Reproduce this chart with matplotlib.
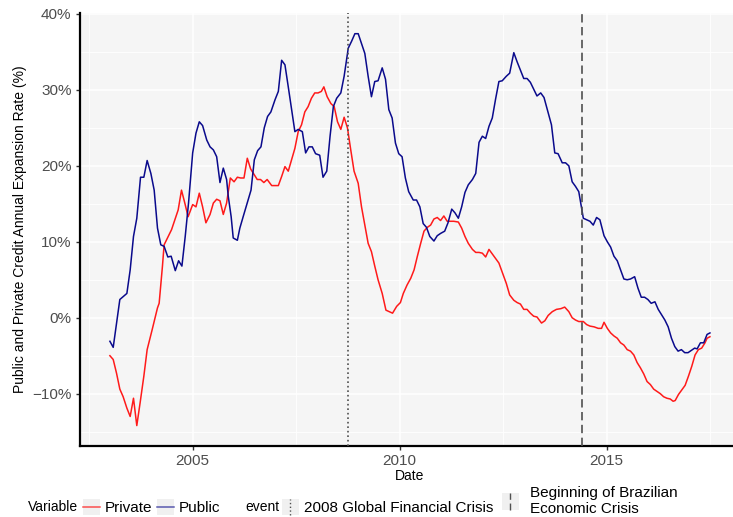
# Public vs private credit expansion rate, Brazil 2003-2017
import matplotlib
matplotlib.use("Agg")
import matplotlib.pyplot as plt
from matplotlib.lines import Line2D
from matplotlib.patches import Rectangle
from matplotlib.ticker import FixedLocator, FuncFormatter

plt.rcParams["font.family"] = ["Liberation Sans", "DejaVu Sans"]

# Data (decimal year, % annual expansion)
public_x = [2003.00, 2003.08, 2003.24, 2003.41, 2003.49, 2003.57, 2003.65, 2003.74, 2003.82, 2003.90,
            2003.99, 2004.07, 2004.15, 2004.23, 2004.31, 2004.40, 2004.48, 2004.58, 2004.66, 2004.74,
            2004.82, 2004.90, 2005.00, 2005.08, 2005.16, 2005.24, 2005.34, 2005.42, 2005.50, 2005.58,
            2005.66, 2005.74, 2005.82, 2005.86, 2005.93, 2005.98, 2006.08, 2006.14, 2006.22, 2006.33,
            2006.41, 2006.49, 2006.57, 2006.65, 2006.73, 2006.81, 2006.89, 2006.99, 2007.07, 2007.15,
            2007.23, 2007.31, 2007.39, 2007.47, 2007.55, 2007.65, 2007.73, 2007.81, 2007.89, 2007.97,
            2008.07, 2008.15, 2008.24, 2008.32, 2008.40, 2008.48, 2008.58, 2008.66, 2008.76, 2008.84,
            2008.92, 2009.00, 2009.08, 2009.16, 2009.24, 2009.32, 2009.40, 2009.48, 2009.58, 2009.66,
            2009.74, 2009.82, 2009.90, 2009.98, 2010.06, 2010.14, 2010.22, 2010.33, 2010.41, 2010.49,
            2010.57, 2010.65, 2010.73, 2010.83, 2010.91, 2010.99, 2011.09, 2011.17, 2011.26, 2011.34,
            2011.42, 2011.50, 2011.58, 2011.66, 2011.76, 2011.84, 2011.92, 2012.00, 2012.08, 2012.16,
            2012.24, 2012.32, 2012.40, 2012.48, 2012.58, 2012.66, 2012.76, 2012.84, 2012.92, 2013.00,
            2013.08, 2013.16, 2013.24, 2013.32, 2013.41, 2013.49, 2013.57, 2013.67, 2013.75, 2013.83,
            2013.93, 2014.01, 2014.09, 2014.17, 2014.25, 2014.33, 2014.40, 2014.44, 2014.52, 2014.60,
            2014.68, 2014.76, 2014.84, 2014.94, 2015.02, 2015.10, 2015.18, 2015.26, 2015.34, 2015.42,
            2015.50, 2015.58, 2015.68, 2015.76, 2015.84, 2015.92, 2016.00, 2016.08, 2016.17, 2016.25,
            2016.33, 2016.41, 2016.49, 2016.57, 2016.65, 2016.73, 2016.81, 2016.89, 2016.97, 2017.05,
            2017.13, 2017.19, 2017.27, 2017.35, 2017.43, 2017.50]
public_y = [-3.1, -3.9, 2.4, 3.2, 6.3, 10.7, 13.1, 18.5, 18.5, 20.7,
            19.0, 16.8, 11.8, 9.6, 9.4, 8.0, 8.1, 6.2, 7.5, 6.8,
            10.7, 15.1, 21.7, 24.3, 25.8, 25.3, 23.4, 22.5, 22.1, 21.2,
            17.8, 19.7, 18.2, 16.0, 13.3, 10.5, 10.2, 11.8, 13.3, 15.3,
            16.8, 20.8, 22.0, 22.5, 25.0, 26.5, 27.1, 28.7, 29.8, 33.9,
            33.3, 30.4, 27.4, 24.5, 24.8, 24.5, 21.7, 22.5, 22.5, 21.6,
            21.4, 18.5, 19.3, 23.9, 27.8, 28.9, 29.6, 31.8, 35.5, 36.4,
            37.4, 37.4, 36.1, 34.8, 31.8, 29.1, 31.1, 31.2, 32.9, 31.4,
            27.4, 26.3, 23.0, 21.6, 21.2, 18.4, 16.6, 15.5, 15.5, 14.6,
            12.4, 11.9, 10.7, 10.1, 10.8, 11.1, 11.4, 12.5, 14.3, 13.8,
            13.1, 14.6, 16.5, 17.5, 18.2, 19.0, 23.1, 23.9, 23.6, 25.2,
            26.3, 28.8, 31.1, 31.2, 31.8, 32.2, 34.9, 33.7, 32.6, 31.5,
            31.5, 31.0, 30.1, 29.2, 29.6, 29.0, 27.4, 25.4, 21.7, 21.6,
            20.4, 20.4, 20.0, 17.9, 17.3, 16.6, 14.4, 13.1, 12.9, 12.7,
            12.2, 13.2, 12.9, 10.8, 10.0, 9.3, 8.1, 7.5, 6.3, 5.1,
            5.0, 5.1, 5.4, 3.9, 2.7, 2.7, 2.4, 1.9, 2.1, 1.1,
            0.4, -0.3, -1.2, -2.7, -3.8, -4.4, -4.2, -4.6, -4.6, -4.3,
            -4.0, -4.1, -3.3, -3.3, -2.2, -2.0]

private_x = [2003.00, 2003.08, 2003.16, 2003.24, 2003.32, 2003.41, 2003.49, 2003.57, 2003.65, 2003.73,
             2003.82, 2003.90, 2004.02, 2004.15, 2004.19, 2004.27, 2004.31, 2004.41, 2004.49, 2004.57,
             2004.65, 2004.73, 2004.81, 2004.89, 2005.00, 2005.08, 2005.16, 2005.24, 2005.32, 2005.42,
             2005.50, 2005.58, 2005.66, 2005.74, 2005.82, 2005.91, 2006.00, 2006.08, 2006.16, 2006.24,
             2006.32, 2006.40, 2006.48, 2006.56, 2006.64, 2006.72, 2006.80, 2006.91, 2006.99, 2007.07,
             2007.15, 2007.23, 2007.31, 2007.39, 2007.47, 2007.55, 2007.63, 2007.71, 2007.79, 2007.87,
             2007.95, 2008.03, 2008.11, 2008.17, 2008.25, 2008.34, 2008.42, 2008.50, 2008.58, 2008.66,
             2008.74, 2008.82, 2008.90, 2009.00, 2009.08, 2009.16, 2009.24, 2009.32, 2009.40, 2009.48,
             2009.58, 2009.67, 2009.75, 2009.83, 2009.93, 2010.02, 2010.09, 2010.18, 2010.27, 2010.35,
             2010.43, 2010.51, 2010.59, 2010.67, 2010.75, 2010.83, 2010.91, 2010.99, 2011.07, 2011.15,
             2011.23, 2011.31, 2011.42, 2011.50, 2011.58, 2011.66, 2011.76, 2011.84, 2011.92, 2012.00,
             2012.08, 2012.16, 2012.24, 2012.32, 2012.40, 2012.48, 2012.58, 2012.66, 2012.76, 2012.84,
             2012.92, 2013.00, 2013.08, 2013.16, 2013.24, 2013.32, 2013.43, 2013.51, 2013.59, 2013.69,
             2013.79, 2013.90, 2013.99, 2014.09, 2014.17, 2014.25, 2014.33, 2014.44, 2014.52, 2014.60,
             2014.70, 2014.80, 2014.88, 2014.94, 2015.02, 2015.10, 2015.18, 2015.26, 2015.34, 2015.42,
             2015.50, 2015.58, 2015.66, 2015.74, 2015.82, 2015.90, 2015.98, 2016.06, 2016.14, 2016.22,
             2016.30, 2016.38, 2016.46, 2016.54, 2016.61, 2016.66, 2016.74, 2016.82, 2016.90, 2016.98,
             2017.06, 2017.14, 2017.22, 2017.30, 2017.38, 2017.43, 2017.50]
private_y = [-5.0, -5.5, -7.3, -9.4, -10.4, -11.9, -13.0, -10.6, -14.2, -11.2,
             -7.7, -4.2, -1.6, 1.3, 1.9, 6.8, 9.6, 10.7, 11.6, 12.9,
             14.2, 16.8, 15.1, 13.3, 14.9, 14.6, 16.4, 14.6, 12.5, 13.6,
             15.1, 15.6, 15.4, 13.6, 15.1, 18.4, 17.9, 18.5, 18.4, 18.4,
             21.0, 19.6, 18.9, 18.2, 18.2, 17.8, 18.2, 17.4, 17.4, 17.4,
             18.6, 19.9, 19.3, 20.8, 22.3, 24.5, 25.4, 27.1, 27.8, 28.9,
             29.6, 29.6, 29.8, 30.4, 29.1, 28.2, 27.8, 25.8, 24.8, 26.4,
             25.0, 22.1, 19.3, 17.7, 14.6, 12.2, 9.8, 8.7, 6.8, 5.0,
             3.2, 1.0, 0.8, 0.6, 1.5, 2.0, 3.2, 4.3, 5.2, 6.3,
             8.1, 9.8, 11.4, 11.9, 12.2, 13.0, 13.2, 12.8, 13.4, 12.7,
             12.7, 12.7, 12.6, 11.8, 10.7, 9.8, 9.0, 8.6, 8.6, 8.5,
             8.0, 9.0, 8.4, 7.8, 7.2, 6.0, 4.5, 3.0, 2.3, 2.0,
             1.8, 1.1, 1.1, 0.6, 0.2, 0.1, -0.7, -0.4, 0.3, 0.8,
             1.1, 1.2, 1.4, 0.8, 0.0, -0.3, -0.5, -0.5, -0.9, -1.1,
             -1.2, -1.4, -1.4, -0.6, -1.4, -2.0, -2.4, -2.7, -3.3, -3.6,
             -4.2, -4.4, -4.9, -5.9, -6.6, -7.4, -8.4, -8.8, -9.4, -9.7,
             -10.0, -10.4, -10.6, -10.7, -11.0, -10.9, -10.1, -9.5, -8.9, -7.7,
             -6.4, -4.9, -4.2, -4.0, -3.3, -2.7, -2.5]

event_x = [2008.75, 2014.41]
event_labels = ["2008 Global Financial Crisis", "Beginning of Brazilian\nEconomic Crisis"]
event_styles = [(0, (1, 1.7)), (0, (5, 2.7))]

x_breaks = [2005, 2010, 2015]
y_breaks = [-10, 0, 10, 20, 30, 40]

RED = "#FF1A1A"
BLUE = "#0A0A8C"
EVENT_C = "#505050"


class KeyHandler:
    """ggplot-like legend key: grey square with a horizontal or vertical line."""

    def __init__(self, vertical=False):
        self.vertical = vertical

    def legend_artist(self, legend, orig_handle, fontsize, handlebox):
        x0, y0 = -handlebox.xdescent, -handlebox.ydescent
        w, h = handlebox.width, handlebox.height
        tr = handlebox.get_transform()
        handlebox.add_artist(Rectangle((x0, y0), w, h, facecolor="#F0F0F0",
                                       edgecolor="none", transform=tr))
        if self.vertical:
            ln = Line2D([x0 + w / 2] * 2, [y0, y0 + h])
        else:
            ln = Line2D([x0, x0 + w], [y0 + h / 2] * 2)
        ln.update_from(orig_handle)
        ln.set_transform(tr)
        handlebox.add_artist(ln)
        return ln


fig = plt.figure(figsize=(7.33, 5.17), dpi=100)
ax = fig.add_axes([0.109, 0.1379, 0.9005, 0.8366])
ax.set_facecolor("#F5F5F5")

ax.plot(private_x, private_y, color=RED, lw=1.1, zorder=3)
ax.plot(public_x, public_y, color=BLUE, lw=1.1, zorder=3)
for xv, ls in zip(event_x, event_styles):
    ax.axvline(xv, color=EVENT_C, lw=1.2, linestyle=ls, zorder=4)

ax.set_xlim(2002.275, 2018.225)
ax.set_ylim(-16.85, 40.1)
ax.xaxis.set_major_locator(FixedLocator(x_breaks))
ax.xaxis.set_minor_locator(FixedLocator([2002.5, 2007.5, 2012.5, 2017.5]))
ax.yaxis.set_major_locator(FixedLocator(y_breaks))
ax.yaxis.set_minor_locator(FixedLocator([-15, -5, 5, 15, 25, 35]))
ax.yaxis.set_major_formatter(FuncFormatter(lambda v, p: f"{int(v)}%".replace("-", "\u2212")))
ax.grid(which="major", color="white", lw=1.1, zorder=0)
ax.grid(which="minor", color="white", lw=0.6, zorder=0)
ax.set_axisbelow(True)

for s in ["top", "right"]:
    ax.spines[s].set_visible(False)
for s in ["left", "bottom"]:
    ax.spines[s].set_color("black")
    ax.spines[s].set_linewidth(1.6)
ax.tick_params(which="major", length=3, width=1, color="#333333",
               labelsize=11, labelcolor="#4D4D4D", pad=3)
ax.tick_params(which="minor", length=0)

ax.set_xlabel("Date", fontsize=10, labelpad=1)
ax.set_ylabel("Public and Private Credit Annual Expansion Rate (%)", fontsize=10, labelpad=4)

# legends at the bottom
ly = 1 - 507 / 517
var_handles = [Line2D([], [], color=RED, lw=1.1, alpha=0.75),
               Line2D([], [], color=BLUE, lw=1.1, alpha=0.65)]
ev_handles = [Line2D([], [], color=EVENT_C, lw=1.0, linestyle=ls) for ls in event_styles]
hmap = {h: KeyHandler() for h in var_handles}
hmap.update({h: KeyHandler(vertical=True) for h in ev_handles})

common = dict(loc="center left", frameon=False, ncol=2, fontsize=11, handlelength=1.1,
              handleheight=1.3, handletextpad=0.33, borderpad=0, borderaxespad=0,
              handler_map=hmap)
leg1 = fig.legend(var_handles, ["Private", "Public"], bbox_to_anchor=(83 / 733, ly),
                  columnspacing=0.33, **common)
leg2 = fig.legend(ev_handles[:1], event_labels[:1], bbox_to_anchor=(282 / 733, ly), **common)
common["handletextpad"] = 0.7
leg3 = fig.legend(ev_handles[1:], event_labels[1:], bbox_to_anchor=(502 / 733, ly + 6 / 517),
                  **common)
fig.text(28 / 733, ly, "Variable", fontsize=10, va="center", ha="left")
fig.text(245 / 733, ly, "event", fontsize=10, va="center", ha="left")

fig.savefig("out.png", dpi=100)
